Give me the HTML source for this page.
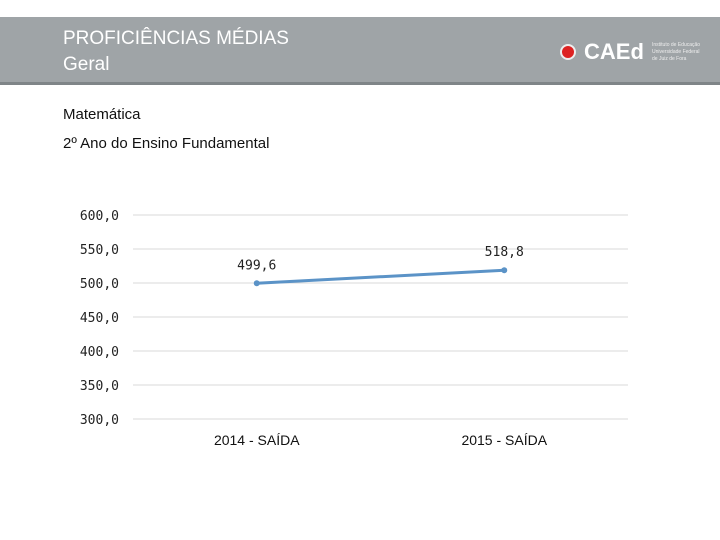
<!DOCTYPE html>
<html><head><meta charset="utf-8"><style>
body{margin:0;width:720px;height:540px;background:#fff;position:relative;overflow:hidden;font-family:"Liberation Sans",sans-serif}
.hdr{position:absolute;left:0;top:17px;width:720px;height:65px;background:#9fa4a7;border-bottom:3px solid #7f8588}
.t{position:absolute;color:#fff;font-size:19px;left:63px}
.lbl{position:absolute;left:63px;font-size:15px;color:#111}
</style></head><body>
<div class="hdr">
 <div class="t" style="top:11px">PROFICIÊNCIAS MÉDIAS</div>
 <div class="t" style="top:37px">Geral</div>
 <div style="position:absolute;left:560px;top:25px;width:150px;height:22px">
  <div style="position:absolute;left:0;top:2px;width:16px;height:16px;border-radius:50%;background:#d22;border:2px solid #eee;box-sizing:border-box"></div>
  <div style="position:absolute;left:24px;top:-3px;color:#fff;font-weight:bold;font-size:22px">CAEd</div>
  <div style="position:absolute;left:92px;top:0;color:#eee;font-size:5px;line-height:7px">Instituto de Educação<br>Universidade Federal<br>de Juiz de Fora</div>
 </div>
</div>
<div class="lbl" style="top:106px">Matemática</div>
<div class="lbl" style="top:135px">2º Ano do Ensino Fundamental</div>
<svg id="c" width="720" height="540" style="position:absolute;left:0;top:0"></svg>
<script>
const categories=["2014 - SAÍDA","2015 - SAÍDA"];
const values=[499.6,518.8];
const valueLabels=["499,6","518,8"];
const ticks=[300,350,400,450,500,550,600];
const tickLabels=["300,0","350,0","400,0","450,0","500,0","550,0","600,0"];
const NS="http://www.w3.org/2000/svg",svg=document.getElementById('c');
const x0=133,x1=628,yTop=215,yBot=419,vmin=300,vmax=600;
const y=v=>yBot-(v-vmin)/(vmax-vmin)*(yBot-yTop);
const x=i=>x0+(i+0.5)*(x1-x0)/categories.length;
function mk(t,a){const e=document.createElementNS(NS,t);for(const k in a)e.setAttribute(k,a[k]);svg.appendChild(e);return e;}
ticks.forEach((t,i)=>{
 const g=mk('line',{x1:x0,x2:x1,y1:y(t),y2:y(t),stroke:'#d9d9d9','stroke-width':1});
 
 
 const tx=mk('text',{x:119,y:y(t)+5,'text-anchor':'end','font-size':13,fill:'#222','font-family':'DejaVu Sans Mono, monospace'});
 tx.textContent=tickLabels[i];
 
 
});
categories.forEach((c,i)=>{
 const tx=mk('text',{x:x(i),y:445,'text-anchor':'middle','font-size':14,fill:'#111','font-family':'Liberation Sans, sans-serif'});
 tx.textContent=c;
 
 
});
const pl=mk('polyline',{points:values.map((v,i)=>x(i)+','+y(v)).join(' '),fill:'none',stroke:'#5b93c7','stroke-width':3});


values.forEach((v,i)=>{
 const p=mk('circle',{cx:x(i),cy:y(v),r:3,fill:'#5b93c7'});
 
 
 const tx=mk('text',{x:x(i),y:y(v)-14,'text-anchor':'middle','font-size':13,fill:'#222','font-family':'DejaVu Sans Mono, monospace'});
 tx.textContent=valueLabels[i];
 
 
});
</script>
</body></html>
